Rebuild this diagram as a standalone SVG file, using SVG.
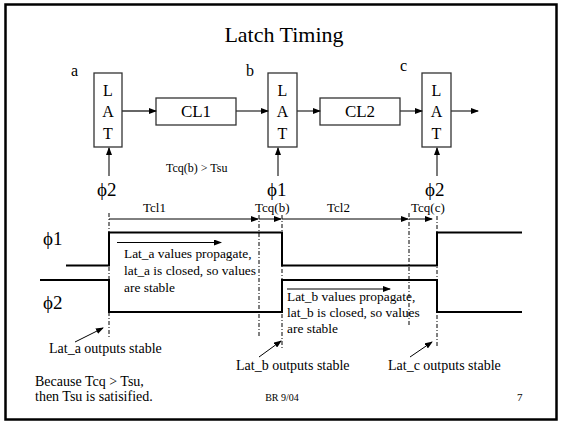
<svg xmlns="http://www.w3.org/2000/svg" width="563" height="424" viewBox="0 0 563 424">
<defs>
<marker id="ah" markerWidth="8" markerHeight="6" refX="7" refY="3" orient="auto" markerUnits="userSpaceOnUse">
<path d="M0,0 L8,3 L0,6 Z" fill="#000"/>
</marker>
<style>
text{font-family:"Liberation Serif","Times New Roman",serif;fill:#000}
.box{fill:#fff;stroke:#333;stroke-width:1.3}
.lt{font-size:16px;text-anchor:middle}
.cl{font-size:17px;text-anchor:middle}
.lab{font-size:16px}
.phi{font-size:19px}
.sm{font-size:13px}
.note{font-size:14px}
.wn{font-size:13.4px}
.conn{stroke:#333;stroke-width:1.3;fill:none;marker-end:url(#ah)}
.tarr{stroke:#000;stroke-width:1;fill:none;marker-end:url(#ah)}
.dash{stroke:#000;stroke-width:1;stroke-dasharray:4 2 1 2;fill:none}
.wave{stroke:#000;stroke-width:2;fill:none}
</style>
</defs>
<rect x="5.5" y="4.5" width="551" height="415" fill="#fff" stroke="#000" stroke-width="2.5"/>
<text x="284" y="42" font-size="22" text-anchor="middle">Latch Timing</text>

<g id="latch-a">
<rect class="box" x="94" y="73" width="28" height="74"/>
<text class="lt" x="108" y="96">L</text><text class="lt" x="108" y="117">A</text><text class="lt" x="108" y="139">T</text>
<text class="lab" x="71" y="76">a</text>
</g>
<g id="cl1">
<rect class="box" x="156" y="98" width="80" height="27"/>
<text class="cl" x="196" y="117">CL1</text>
</g>
<g id="latch-b">
<rect class="box" x="268" y="73" width="29" height="74"/>
<text class="lt" x="282.5" y="96">L</text><text class="lt" x="282.5" y="117">A</text><text class="lt" x="282.5" y="139">T</text>
<text class="lab" x="246" y="76">b</text>
</g>
<g id="cl2">
<rect class="box" x="320" y="98" width="80" height="27"/>
<text class="cl" x="360" y="117">CL2</text>
</g>
<g id="latch-c">
<rect class="box" x="422" y="73" width="29" height="74"/>
<text class="lt" x="436.5" y="96">L</text><text class="lt" x="436.5" y="117">A</text><text class="lt" x="436.5" y="139">T</text>
<text class="lab" x="400" y="71">c</text>
</g>
<g id="clock-labels">
<text class="phi" x="97" y="196">ϕ2</text>
<text class="phi" x="267" y="196">ϕ1</text>
<text class="phi" x="425" y="196">ϕ2</text>
<text x="166" y="172" font-size="12">Tcq(b) &gt; Tsu</text>
</g>

<g id="connectors">
<line class="conn" x1="122" y1="111" x2="156" y2="111"/>
<line class="conn" x1="236" y1="111" x2="268" y2="111"/>
<line class="conn" x1="297" y1="111" x2="320" y2="111"/>
<line class="conn" x1="400" y1="111" x2="422" y2="111"/>
<line class="conn" x1="451" y1="111" x2="478" y2="111"/>
<line class="conn" x1="109" y1="176" x2="109" y2="148"/>
<line class="conn" x1="278" y1="176" x2="278" y2="148"/>
<line class="conn" x1="437" y1="176" x2="437" y2="148"/>
</g>

<g id="timing">
<text class="phi" x="43" y="245">ϕ1</text>
<text class="phi" x="43" y="309">ϕ2</text>
<polyline class="wave" points="66,265.5 109,265.5 109,232.5 282,232.5 282,265.5 437,265.5 437,232.5 522,232.5"/>
<polyline class="wave" points="40,280 109,280 109,312 282,312 282,280 437,280 437,312 522,312"/>
<line class="dash" x1="109" y1="213" x2="109" y2="337"/>
<line class="dash" x1="259" y1="215" x2="259" y2="337"/>
<line class="dash" x1="282" y1="215" x2="282" y2="350"/>
<line class="dash" x1="409" y1="213" x2="409" y2="327"/>
<line class="dash" x1="437" y1="216" x2="437" y2="348"/>
<line class="tarr" x1="109" y1="219" x2="258" y2="219"/>
<line class="tarr" x1="259" y1="219" x2="281" y2="219"/>
<line class="tarr" x1="282" y1="219" x2="408" y2="219"/>
<line class="tarr" x1="409" y1="219" x2="432" y2="219"/>
<text class="sm" x="143" y="212">Tcl1</text>
<text class="sm" x="255" y="212">Tcq(b)</text>
<text class="sm" x="327" y="212">Tcl2</text>
<text class="sm" x="411" y="212">Tcq(c)</text>
<line class="tarr" x1="117" y1="242.5" x2="221" y2="242.5"/>
<text class="wn" x="124" y="258">Lat_a values propagate,</text>
<text class="wn" x="124" y="275">lat_a is closed, so values</text>
<text class="wn" x="124" y="291.5">are stable</text>
<line class="tarr" x1="287" y1="289" x2="390" y2="289"/>
<text class="wn" x="287" y="301">Lat_b values propagate,</text>
<text class="wn" x="287" y="317">lat_b is closed, so values</text>
<text class="wn" x="287" y="333">are stable</text>
<line class="tarr" x1="75" y1="342" x2="103" y2="328"/>
<line class="tarr" x1="259" y1="357" x2="281" y2="341"/>
<line class="tarr" x1="410" y1="357" x2="432" y2="342"/>
<text class="note" x="49" y="353">Lat_a outputs stable</text>
<text class="note" x="236" y="370">Lat_b outputs stable</text>
<text class="note" x="388" y="370">Lat_c outputs stable</text>
<text class="note" x="35" y="386">Because Tcq &gt; Tsu,</text>
<text class="note" x="35" y="401">then Tsu is satisified.</text>
<text x="282" y="401" font-size="10" text-anchor="middle">BR 9/04</text>
<text x="517" y="401" font-size="11">7</text>
</g>
</svg>
